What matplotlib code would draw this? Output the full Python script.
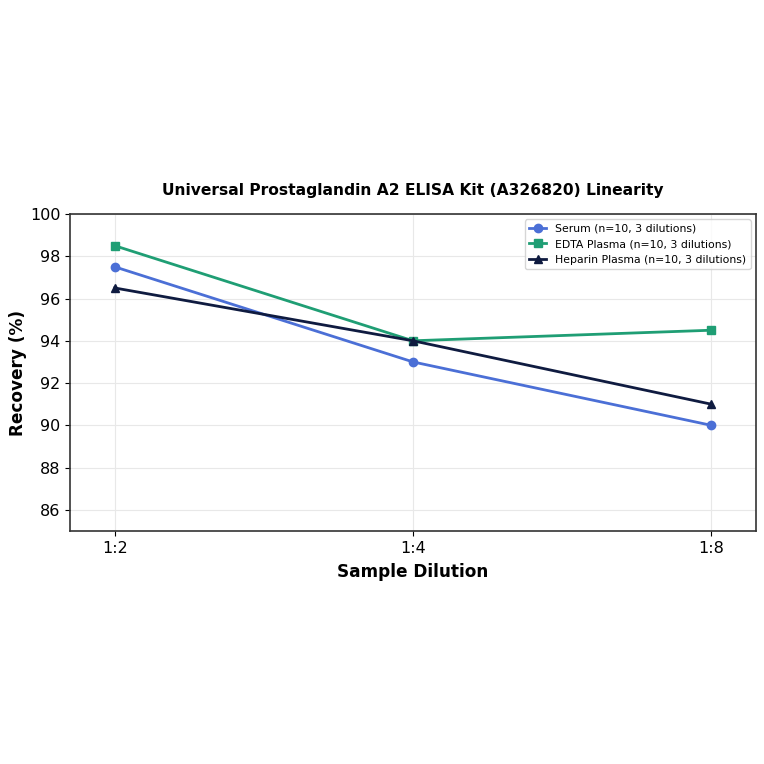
import matplotlib
matplotlib.use("Agg")
import matplotlib.pyplot as plt

dilutions = ["1:2", "1:4", "1:8"]
serum = [97.5, 93.0, 90.0]
edta = [98.5, 94.0, 94.5]
heparin = [96.5, 94.0, 91.0]
labels = ["Serum (n=10, 3 dilutions)", "EDTA Plasma (n=10, 3 dilutions)", "Heparin Plasma (n=10, 3 dilutions)"]
title = "Universal Prostaglandin A2 ELISA Kit (A326820) Linearity"

fig = plt.figure(figsize=(7.64, 7.64), dpi=100)
ax = fig.add_axes([0.0916, 0.305, 0.8979, 0.4149])
x = list(range(len(dilutions)))
ax.plot(x, serum, marker="o", color="#4b6fd6", lw=2, ms=6, label=labels[0])
ax.plot(x, edta, marker="s", color="#1f9e74", lw=2, ms=6, label=labels[1])
ax.plot(x, heparin, marker="^", color="#0f1b40", lw=2, ms=6, label=labels[2])
ax.set_xticks(x)
ax.set_xticklabels(dilutions)
ax.set_xlim(-0.15, 2.15)
ax.set_ylim(85, 100)
ax.set_yticks([86, 88, 90, 92, 94, 96, 98, 100])
ax.tick_params(labelsize=11.5)
ax.grid(True, color="#e8e8e8", lw=0.8)
for s in ax.spines.values():
    s.set_color("#333333")
    s.set_linewidth(1.2)
ax.set_xlabel("Sample Dilution", fontsize=12.2, fontweight="bold", labelpad=5)
ax.set_ylabel("Recovery (%)", fontsize=12.2, fontweight="bold", labelpad=2)
ax.set_title(title, fontsize=11.2, fontweight="bold", pad=14)
ax.legend(loc="upper right", fontsize=7.8, handlelength=1.6, borderaxespad=0.5)
fig.savefig("out.png", dpi=100)
